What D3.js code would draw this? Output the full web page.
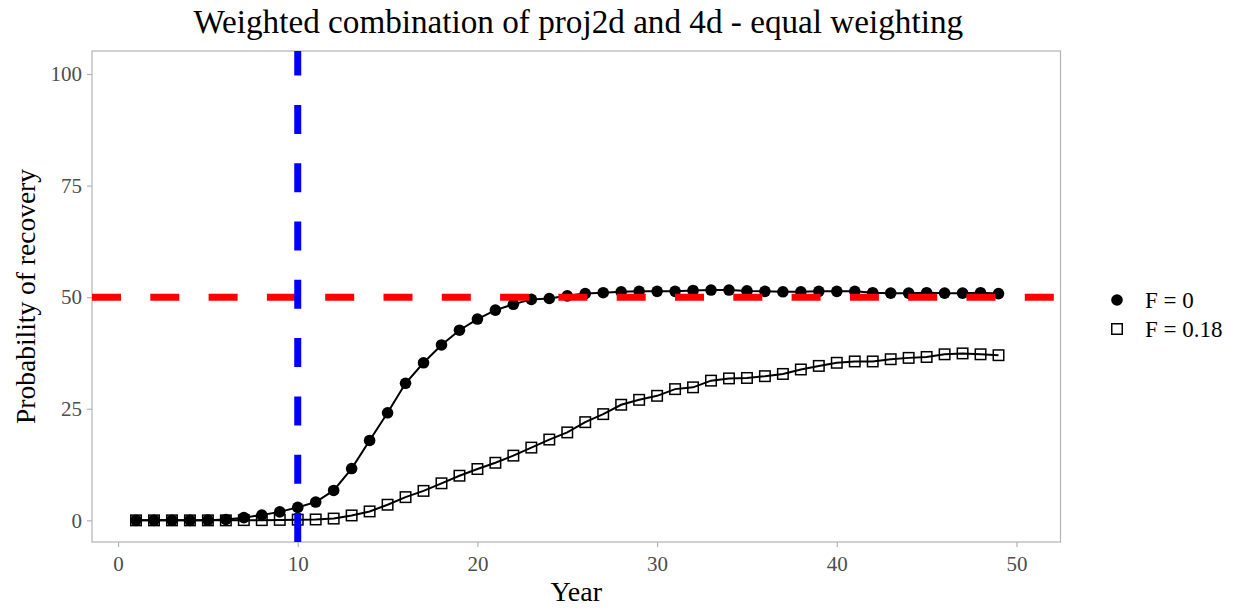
<!DOCTYPE html>
<html><head><meta charset="utf-8">
<script src="https://cdn.jsdelivr.net/npm/d3@7"></script>
<style>
body{margin:0;background:#fff;}
svg{display:block;font-family:"Liberation Serif","Times New Roman",serif;}
</style></head>
<body><svg id="c" width="1238" height="611"></svg>
<script>
const years = d3.range(1, 50);
const f0 = [0,0,0,0,0.05,0.2,0.6,1.2,1.9,2.9,4.1,6.7,11.6,17.9,24.1,30.7,35.3,39.3,42.6,45.1,47.1,48.4,49.5,49.7,50.3,50.8,51.0,51.2,51.3,51.3,51.3,51.5,51.6,51.6,51.4,51.3,51.2,51.2,51.3,51.3,51.3,51.0,50.9,50.9,51.0,50.9,50.9,51.0,50.8];
const f018 = [0,0,0,0,0,0,0.05,0.05,0.1,0.15,0.2,0.4,1.1,2.0,3.5,5.2,6.6,8.3,10.0,11.5,12.9,14.5,16.3,18.1,19.7,22.0,23.8,25.9,27.0,27.9,29.4,29.8,31.3,31.8,31.9,32.3,32.8,33.8,34.6,35.3,35.6,35.6,36.1,36.4,36.6,37.2,37.4,37.2,37.0];
const seriesNames = ["F = 0", "F = 0.18"];
const xTicks = [0,10,20,30,40,50];
const yTicks = [0,25,50,75,100];
const targetLevel = 50;
const startYear = 10;
const titleText = "Weighted combination of proj2d and 4d - equal weighting";

const svg = d3.select("#c");
const L = 92, T = 51, R = 1060.5, B = 542;
const x = d3.scaleLinear().domain([-1.45, 52.45]).range([L, R]);
const y = d3.scaleLinear().domain([-4.85, 105.15]).range([B, T]);

const grey = "#4d4d4d";
svg.append("rect").attr("x", L).attr("y", T).attr("width", R - L).attr("height", B - T)
  .attr("fill", "none").attr("stroke", "#b3b3b3").attr("stroke-width", 1.2);

const xAxis = svg.append("g").attr("transform", `translate(0,${B})`)
  .call(d3.axisBottom(x).tickValues(xTicks).tickSize(5).tickPadding(5).tickFormat(d3.format("d")));
const yAxis = svg.append("g").attr("transform", `translate(${L},0)`)
  .call(d3.axisLeft(y).tickValues(yTicks).tickSize(5).tickPadding(5).tickFormat(d3.format("d")));
[xAxis, yAxis].forEach(a => {
  a.select(".domain").remove();
  a.selectAll(".tick line").attr("stroke", "#b3b3b3").attr("stroke-width", 1.2);
  a.selectAll(".tick text").attr("fill", grey).style("font-size", "21px")
   .style("font-family", "Liberation Serif, serif");
});
xAxis.selectAll(".tick text").attr("dy", "0.9em");

const line0 = d3.line().x((d, i) => x(years[i])).y(d => y(d)).curve(d3.curveLinear);
const g = svg.append("g");
g.append("path").datum(f018).attr("d", line0).attr("fill", "none").attr("stroke", "#000").attr("stroke-width", 2);
g.append("path").datum(f0).attr("d", line0).attr("fill", "none").attr("stroke", "#000").attr("stroke-width", 2);
const sq = 10.5;
g.selectAll("rect.s").data(f018).enter().append("rect")
  .attr("x", (d, i) => x(years[i]) - sq / 2).attr("y", d => y(d) - sq / 2)
  .attr("width", sq).attr("height", sq).attr("fill", "none").attr("stroke", "#000").attr("stroke-width", 1.5);
g.selectAll("circle.c").data(f0).enter().append("circle")
  .attr("cx", (d, i) => x(years[i])).attr("cy", d => y(d)).attr("r", 5.8).attr("fill", "#000");

svg.append("line").attr("x1", L).attr("x2", R).attr("y1", y(targetLevel)).attr("y2", y(targetLevel))
  .attr("stroke", "#ff0000").attr("stroke-width", 7).attr("stroke-dasharray", "29,29.3");
svg.append("line").attr("x1", x(startYear)).attr("x2", x(startYear)).attr("y1", B).attr("y2", T)
  .attr("stroke", "#0000ff").attr("stroke-width", 7).attr("stroke-dasharray", "29,29.3");

svg.append("text").attr("x", (L + R) / 2 + 2).attr("y", 33).attr("text-anchor", "middle")
  .style("font-size", "33.2px").attr("fill", "#000").text(titleText);
svg.append("text").attr("x", (L + R) / 2).attr("y", 601).attr("text-anchor", "middle")
  .style("font-size", "28px").attr("fill", "#000").text("Year");
svg.append("text").attr("transform", `translate(35,${(T + B) / 2}) rotate(-90)`).attr("text-anchor", "middle")
  .style("font-size", "27.5px").attr("fill", "#000").text("Probability of recovery");

const lg = svg.append("g");
lg.append("circle").attr("cx", 1117).attr("cy", 300).attr("r", 5.8).attr("fill", "#000");
lg.append("rect").attr("x", 1117 - sq / 2).attr("y", 329 - sq / 2).attr("width", sq).attr("height", sq)
  .attr("fill", "none").attr("stroke", "#000").attr("stroke-width", 1.5);
lg.selectAll("text").data(seriesNames).enter().append("text")
  .attr("x", 1145).attr("y", (d, i) => 300 + i * 29).attr("dy", "0.35em")
  .style("font-size", "23px").attr("fill", "#000").text(d => d);
</script></body></html>
